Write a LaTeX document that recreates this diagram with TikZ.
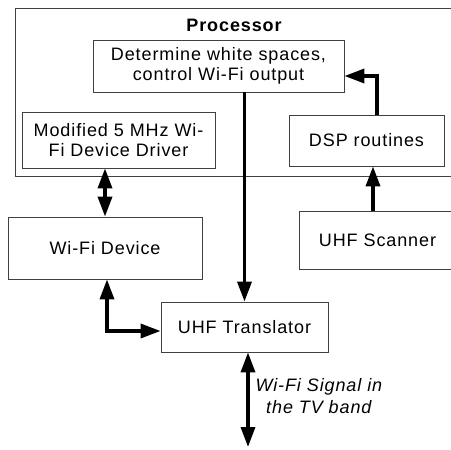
\documentclass[tikz,border=0pt]{standalone}
\usepackage{fontspec}
\setmainfont[LetterSpace=5]{Liberation Sans}
\usetikzlibrary{arrows.meta}

\tikzset{
  block/.style={draw=black!75, line width=0.8pt, align=center, inner sep=0pt},
  link/.style={line width=3.5pt, arrows={-Triangle[length=20pt,width=14pt]}},
  dlink/.style={line width=3.5pt, arrows={Triangle[length=20pt,width=14pt]-Triangle[length=20pt,width=14pt]}}
}

\begin{document}
\begin{tikzpicture}[x=1pt, y=-1pt, font=\fontsize{18}{19.5}\selectfont]

  \useasboundingbox (0,0) rectangle (451,450);

  % ----- Processor -----
  \draw[black!75, line width=0.8pt] (15,8) rectangle (470,176);
  \node (proclabel) at (234.5,25) {\textbf{Processor}};

  \node[block, minimum width=251pt, minimum height=52pt] (determine) at (218.5,66)
    {Determine white spaces,\\control Wi-Fi output};
  \node[block, minimum width=193pt, minimum height=56pt] (driver) at (118.5,140)
    {Modified 5 MHz Wi-\\Fi Device Driver};
  \node[block, minimum width=155pt, minimum height=51pt] (dsp) at (366.5,140.5)
    {DSP routines};

  % ----- Hardware -----
  \node[block, minimum width=194pt, minimum height=62pt] (wifi) at (105,248) {Wi-Fi Device};
  \node[block, minimum width=157pt, minimum height=58pt] (scanner) at (377.5,240) {UHF Scanner};
  \node[block, minimum width=167pt, minimum height=50pt] (translator) at (244.5,327) {UHF Translator};

  % Verbindungen
  \coordinate (dspout) at ([xshift=10.5pt]dsp.north);
  \coordinate (dspin) at ([xshift=6.5pt]dsp.south);
  \coordinate (air) at (248,447);

  \draw[dlink] (wifi.north |- driver.south) -- (wifi.north);
  \draw[link] (determine.south -| translator.north) -- (translator.north);
  \draw[link] (dspout) |- ([yshift=-10pt]determine.east);
  \draw[link] (scanner.north -| dspin) -- (dspin);
  \draw[dlink] ([xshift=2pt]wifi.south) |- ([yshift=-4pt]translator.west);
  \draw[dlink] (translator.south -| air) -- (air);

  % Beschriftung
  \node[anchor=west, align=center, font=\fontsize{18}{22}\selectfont\itshape] (signal) at (252,396)
    {Wi-Fi Signal in\\the TV band};

\end{tikzpicture}
\end{document}
